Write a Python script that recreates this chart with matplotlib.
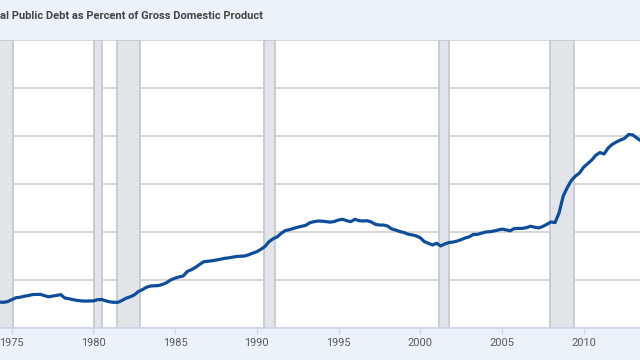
import numpy as np
import matplotlib
matplotlib.use("Agg")
import matplotlib.pyplot as plt

# title as it is visible in the (cropped) reference
title = "al Public Debt as Percent of Gross Domestic Product"

# quarterly observations, first quarter 1974 through third quarter 2013
start_year = 1974
debt_pct = [
    30.9, 30.8, 30.7, 31.0,   # 1974
    31.8, 32.6, 32.8, 33.2,   # 1975
    33.5, 33.9, 34.0, 34.0,   # 1976
    33.5, 33.0, 33.3, 33.6,   # 1977
    33.9, 32.5, 32.2, 31.8,   # 1978
    31.5, 31.3, 31.2, 31.25,  # 1979
    31.3, 31.8, 31.9, 31.3,   # 1980
    30.9, 30.7, 30.7, 31.5,   # 1981
    32.4, 33.0, 33.8, 35.2,   # 1982
    36.0, 37.0, 37.5, 37.6,   # 1983
    37.7, 38.2, 39.0, 40.1,   # 1984
    40.8, 41.3, 41.7, 43.6,   # 1985
    44.3, 45.3, 46.5, 47.6,   # 1986
    47.8, 48.0, 48.3, 48.6,   # 1987
    49.0, 49.2, 49.5, 49.8,   # 1988
    49.9, 50.0, 50.5, 51.2,   # 1989
    51.8, 52.8, 54.0, 56.0,   # 1990
    57.2, 58.0, 59.5, 60.6,   # 1991
    61.0, 61.5, 62.0, 62.4,   # 1992
    62.8, 63.9, 64.3, 64.6,   # 1993
    64.5, 64.3, 64.1, 64.4,   # 1994
    65.0, 65.3, 64.7, 64.3,   # 1995
    65.3, 64.7, 64.6, 64.7,   # 1996
    64.2, 63.2, 62.9, 62.9,   # 1997
    62.5, 61.3, 60.8, 60.2,   # 1998
    59.8, 59.1, 58.8, 58.4,   # 1999
    57.6, 56.0, 55.3, 54.6,   # 2000
    55.3, 54.2, 55.0, 55.6,   # 2001
    55.8, 56.2, 56.8, 57.5,   # 2002
    58.0, 59.0, 59.0, 59.5,   # 2003
    60.0, 60.1, 60.4, 60.8,   # 2004
    61.2, 60.9, 60.5, 61.4,   # 2005
    61.5, 61.5, 61.8, 62.4,   # 2006
    62.0, 61.7, 62.3, 63.2,   # 2007
    64.2, 63.9, 68.0, 75.0,   # 2008
    78.5, 81.5, 83.3, 84.6,   # 2009
    87.0, 88.5, 90.0, 92.0,   # 2010
    93.1, 92.5, 95.0, 96.5,   # 2011
    97.5, 98.3, 99.0, 100.6,  # 2012
    100.5, 99.2, 98.0,        # 2013
]

recession_starts = [1973.92, 1980.04, 1981.42, 1990.46, 2001.16, 2007.92]
recession_ends = [1975.10, 1980.50, 1982.82, 1991.12, 2001.79, 2009.43]

year_ticks = [1975, 1980, 1985, 1990, 1995, 2000, 2005, 2010]
y_grid = [20, 40, 60, 80, 100, 120, 140]

dates = start_year + 0.25 * np.arange(len(debt_pct))

bg = "#ebf2fa"
fig = plt.figure(figsize=(6.4, 3.6), dpi=100, facecolor=bg)
ax = fig.add_axes([0.0, 32 / 360, 1.0, 288 / 360])
ax.set_facecolor("white")

for s, e in zip(recession_starts, recession_ends):
    ax.axvspan(s, e, facecolor="#e1e5ea", edgecolor="#c6c9ce", linewidth=1.3, zorder=1)

for g in y_grid:
    ax.axhline(g, color="#d3d3d3", linewidth=1.3, zorder=0.5)

ax.plot(dates, debt_pct, color="#0f4d98", linewidth=2.3, zorder=3, solid_joinstyle="round")

ax.set_xlim(1974.28, 2013.45)
ax.set_ylim(20, 140)
ax.set_yticks([])
ax.set_xticks(year_ticks)
ax.set_xticklabels([str(y) for y in year_ticks], fontfamily="Roboto", fontsize=7.9, color="#595959")
ax.tick_params(axis="x", length=4.5, width=0.9, color="#ccd6eb", pad=3)
for sp in ["left", "right", "top"]:
    ax.spines[sp].set_visible(False)
ax.spines["bottom"].set_color("#ccd6eb")
ax.spines["bottom"].set_linewidth(1.2)

fig.text(0.5 / 640, 1 - 16 / 360, title, ha="left", va="center",
         fontfamily="Roboto", fontweight="bold", fontsize=8.0, color="#444444")

fig.savefig("out.png", dpi=100, facecolor=bg)
